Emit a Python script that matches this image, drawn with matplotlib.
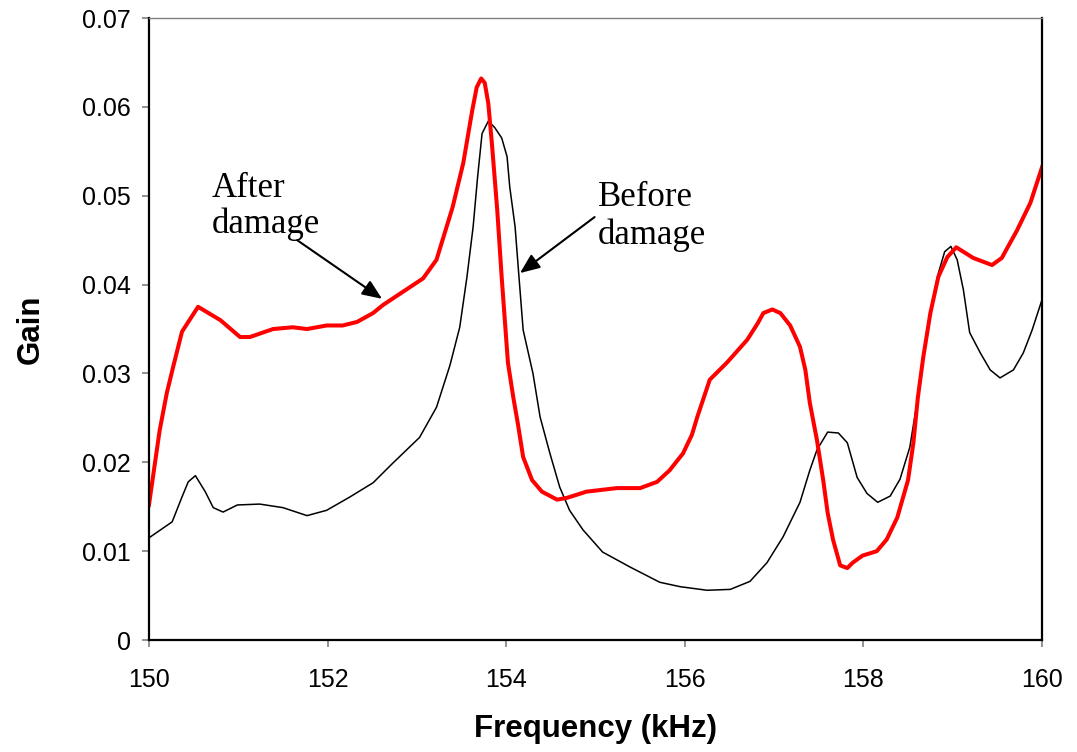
import matplotlib
matplotlib.use("Agg")
import matplotlib.pyplot as plt

# Frequency (kHz) and gain
before_freq = [150.00, 150.26, 150.37, 150.44, 150.52, 150.63, 150.72, 150.83, 150.99, 151.24,
               151.50, 151.77, 151.99, 152.25, 152.51, 152.73, 153.03, 153.22, 153.37, 153.48,
               153.56, 153.63, 153.68, 153.73, 153.80, 153.87, 153.95, 154.01, 154.04, 154.10,
               154.14, 154.19, 154.30, 154.38, 154.49, 154.60, 154.71, 154.86, 155.08, 155.39,
               155.72, 155.95, 156.25, 156.51, 156.73, 156.92, 157.10, 157.29, 157.40, 157.48,
               157.60, 157.72, 157.82, 157.93, 158.04, 158.16, 158.30, 158.41, 158.52, 158.60,
               158.67, 158.75, 158.84, 158.91, 158.98, 159.05, 159.12, 159.19, 159.31, 159.42,
               159.53, 159.68, 159.79, 159.89, 160.00]
before_gain = [0.0115, 0.0133, 0.0161, 0.0178, 0.0185, 0.0167, 0.0149, 0.0144, 0.0152, 0.0153,
               0.0149, 0.0140, 0.0146, 0.0161, 0.0177, 0.0199, 0.0228, 0.0262, 0.0309, 0.0352,
               0.0408, 0.0465, 0.0521, 0.0570, 0.0584, 0.0577, 0.0565, 0.0544, 0.0510, 0.0465,
               0.0413, 0.0349, 0.0300, 0.0251, 0.0210, 0.0172, 0.0146, 0.0124, 0.0099, 0.0082,
               0.0065, 0.0060, 0.0056, 0.0057, 0.0066, 0.0087, 0.0116, 0.0155, 0.0191, 0.0214,
               0.0234, 0.0233, 0.0222, 0.0183, 0.0165, 0.0155, 0.0162, 0.0181, 0.0217, 0.0267,
               0.0318, 0.0371, 0.0413, 0.0437, 0.0443, 0.0428, 0.0394, 0.0346, 0.0323, 0.0304,
               0.0295, 0.0304, 0.0323, 0.0349, 0.0383]

after_freq = [150.00, 150.12, 150.20, 150.27, 150.37, 150.55, 150.80, 151.02, 151.13, 151.39,
              151.61, 151.77, 151.99, 152.17, 152.33, 152.51, 152.62, 153.07, 153.22, 153.40,
              153.52, 153.62, 153.67, 153.72, 153.76, 153.80, 153.84, 153.90, 153.95, 154.02,
              154.08, 154.13, 154.19, 154.29, 154.40, 154.57, 154.68, 154.90, 155.24, 155.50,
              155.69, 155.83, 155.98, 156.08, 156.14, 156.28, 156.47, 156.70, 156.82, 156.88,
              156.98, 157.07, 157.18, 157.29, 157.35, 157.40, 157.48, 157.55, 157.60, 157.66,
              157.74, 157.82, 157.88, 157.99, 158.15, 158.26, 158.38, 158.50, 158.56, 158.61,
              158.67, 158.75, 158.84, 158.94, 159.04, 159.23, 159.44, 159.55, 159.61, 159.72,
              159.87, 160.00]
after_gain = [0.0152, 0.0236, 0.0278, 0.0307, 0.0347, 0.0375, 0.0360, 0.0341, 0.0341, 0.0350,
              0.0352, 0.0350, 0.0354, 0.0354, 0.0358, 0.0368, 0.0377, 0.0407, 0.0428, 0.0487,
              0.0537, 0.0596, 0.0622, 0.0632, 0.0627, 0.0604, 0.0559, 0.0484, 0.0408, 0.0312,
              0.0273, 0.0244, 0.0206, 0.0180, 0.0167, 0.0158, 0.0160, 0.0167, 0.0171, 0.0171,
              0.0178, 0.0191, 0.0210, 0.0231, 0.0251, 0.0293, 0.0312, 0.0338, 0.0357, 0.0368,
              0.0372, 0.0368, 0.0354, 0.0330, 0.0304, 0.0267, 0.0225, 0.0180, 0.0143, 0.0113,
              0.0084, 0.0081, 0.0087, 0.0095, 0.0100, 0.0113, 0.0138, 0.0180, 0.0222, 0.0273,
              0.0318, 0.0368, 0.0409, 0.0431, 0.0442, 0.0430, 0.0422, 0.0430, 0.0441, 0.0461,
              0.0492, 0.0532]

x_ticks = [150, 152, 154, 156, 158, 160]
x_tick_labels = ["150", "152", "154", "156", "158", "160"]
y_ticks = [0, 0.01, 0.02, 0.03, 0.04, 0.05, 0.06, 0.07]
y_tick_labels = ["0", "0.01", "0.02", "0.03", "0.04", "0.05", "0.06", "0.07"]

plt.rcParams['font.family'] = ['Liberation Sans', 'DejaVu Sans']

fig = plt.figure(figsize=(10.77, 7.52), dpi=100)
ax = fig.add_axes([0.1383, 0.1489, 0.8292, 0.8271])

ax.plot(before_freq, before_gain, color="black", lw=1.1)
ax.plot(after_freq, after_gain, color="#ff0000", lw=2.9)

ax.set_xlim(150, 160)
ax.set_ylim(0, 0.07)
ax.set_xticks(x_ticks)
ax.set_xticklabels(x_tick_labels)
ax.set_yticks(y_ticks)
ax.set_yticklabels(y_tick_labels)
ax.tick_params(direction="out", length=5, width=1.2, color="#808080", labelsize=18)
ax.tick_params(axis="x", pad=15)
ax.tick_params(axis="y", pad=8)

for side in ["left", "bottom", "right"]:
    ax.spines[side].set_color("black")
    ax.spines[side].set_linewidth(1.6)
ax.spines["top"].set_color("#808080")
ax.spines["top"].set_linewidth(1.0)

ax.set_xlabel("Frequency (kHz)", fontsize=22.5, fontweight="bold", labelpad=16)
ax.set_ylabel("Gain", fontsize=22.5, fontweight="bold", labelpad=26)

# annotations
serif = dict(family="Liberation Serif", fontsize=25, va="baseline", ha="left")
ax.text(150.705, 0.04985, "After", **serif)
ax.text(150.705, 0.0458, "damage", **serif)
ax.text(155.03, 0.0488, "Before", **serif)
ax.text(155.03, 0.04456, "damage", **serif)

arrow = dict(arrowstyle="-|>,head_length=0.6,head_width=0.25", color="black",
             lw=1.5, mutation_scale=20, shrinkA=0, shrinkB=0)
ax.annotate("", xy=(152.61, 0.0384), xytext=(151.66, 0.0450), arrowprops=arrow)
ax.annotate("", xy=(154.155, 0.0413), xytext=(154.99, 0.0476), arrowprops=arrow)

fig.savefig("out.png", dpi=100)
